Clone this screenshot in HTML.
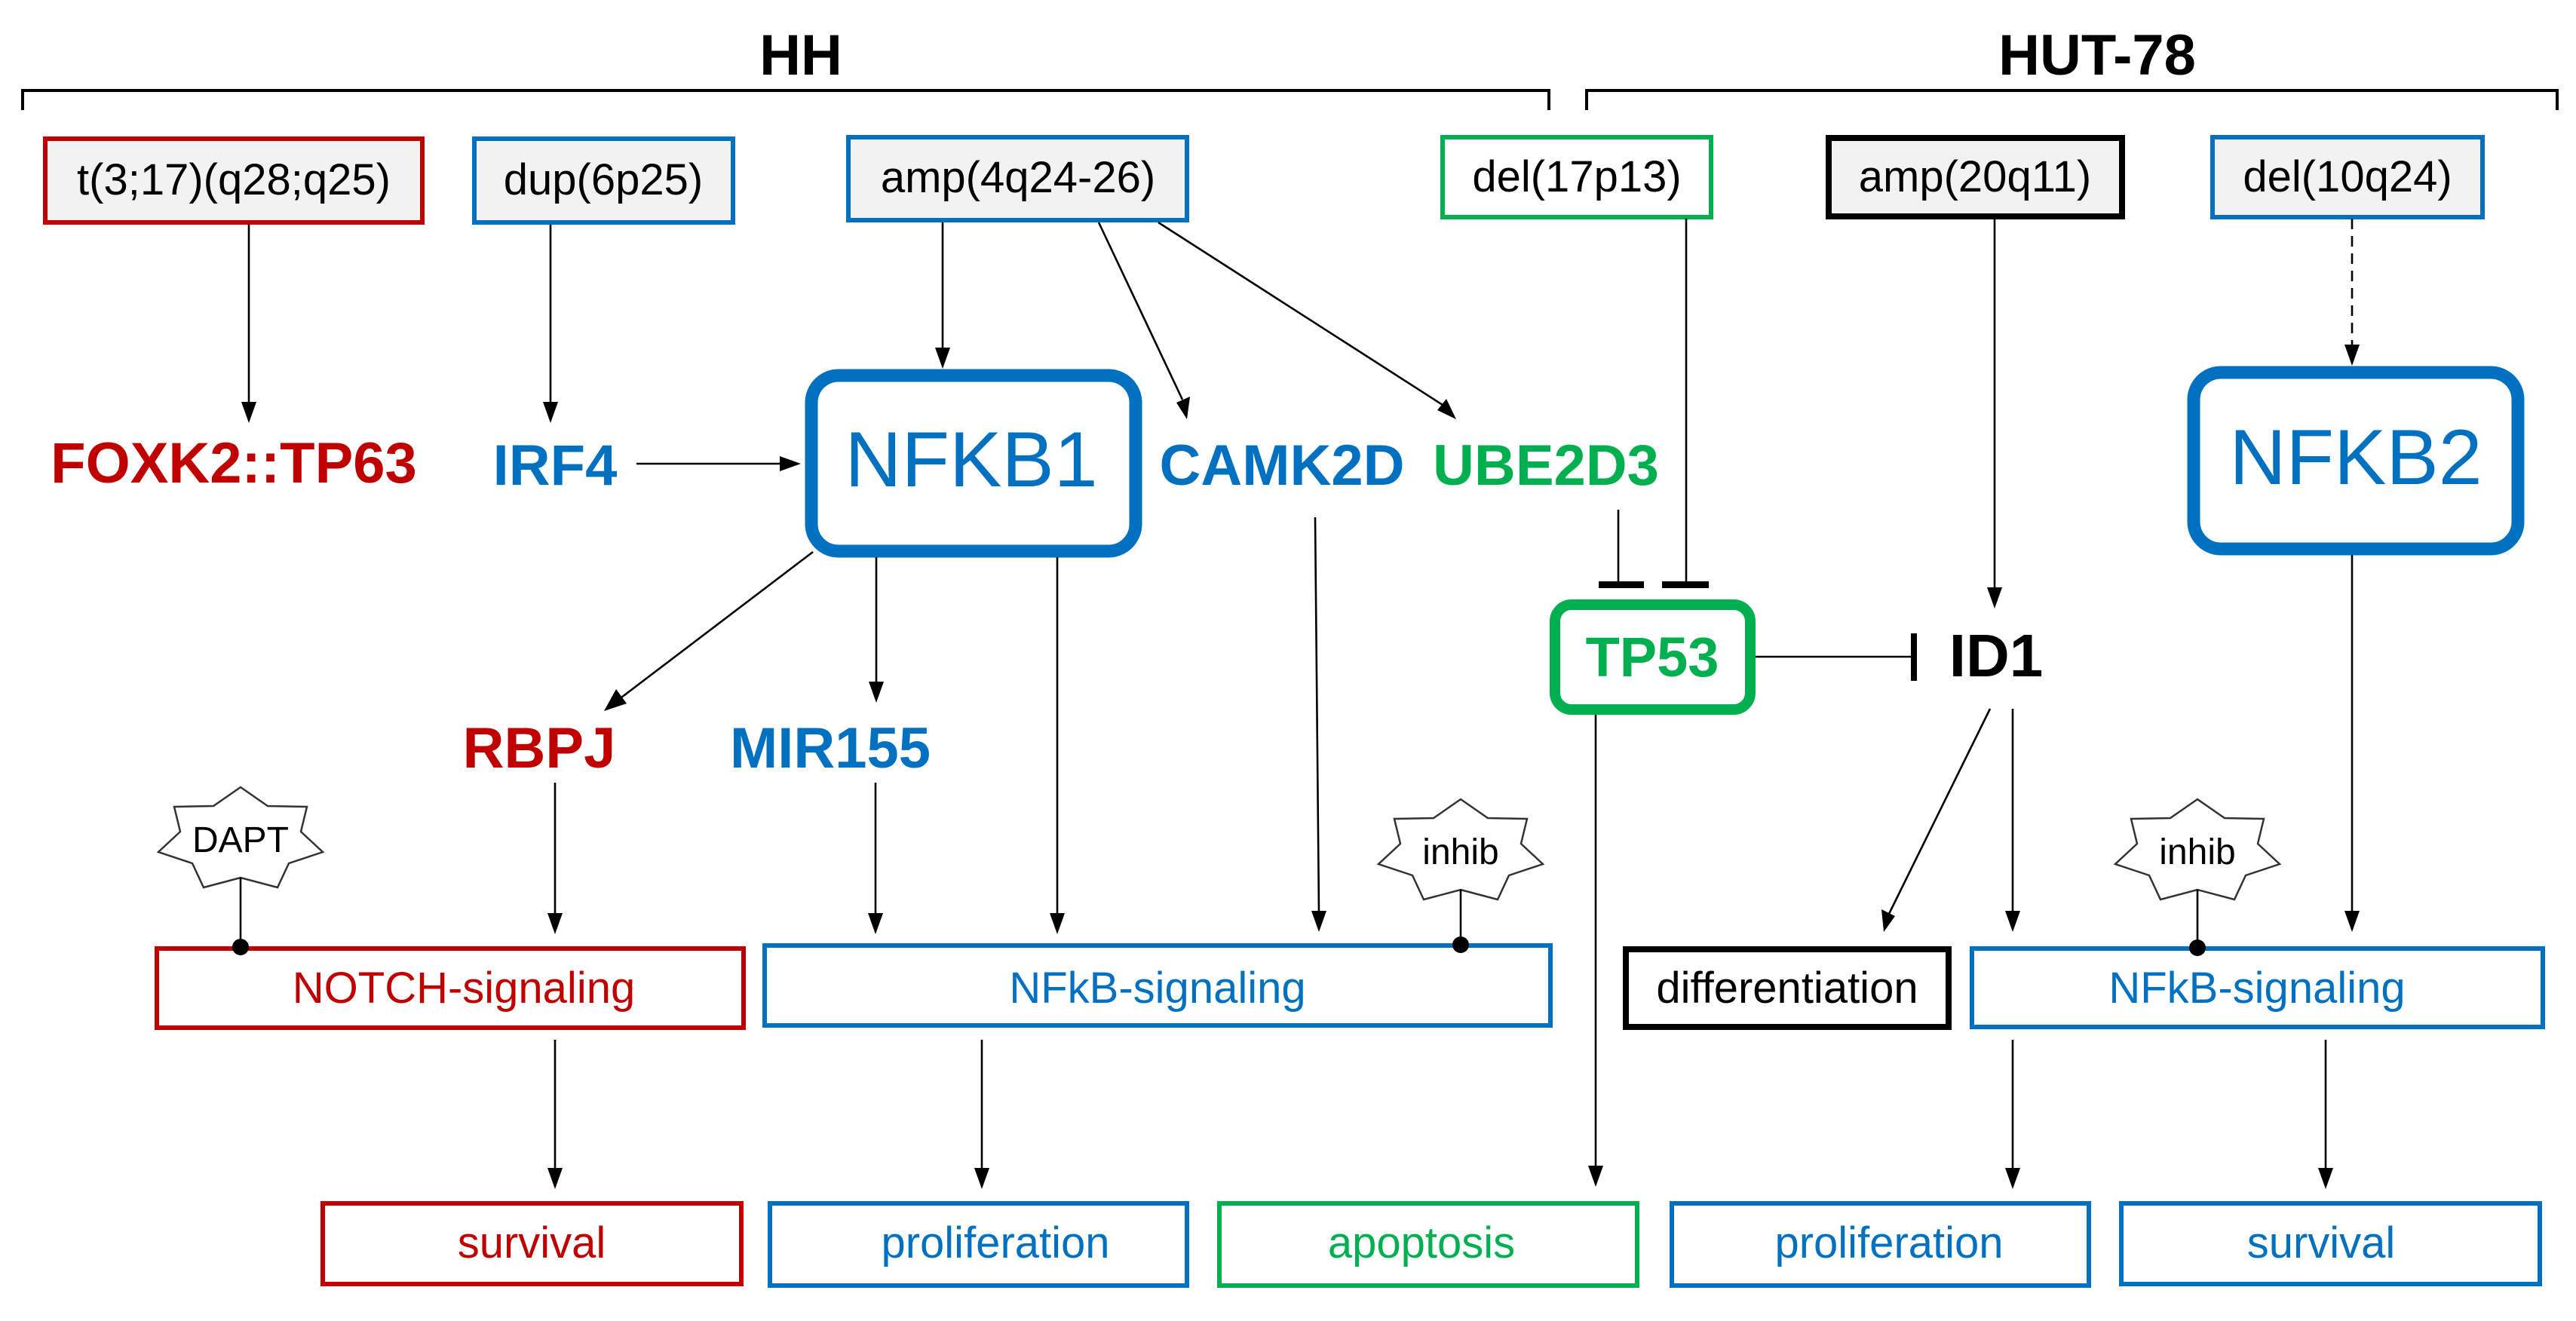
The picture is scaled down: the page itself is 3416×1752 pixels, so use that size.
<!DOCTYPE html>
<html><head><meta charset="utf-8"><style>
html,body{margin:0;padding:0;background:#fff}
svg{display:block}
text{font-family:"Liberation Sans",Arial,sans-serif}
</style></head><body>
<svg width="3416" height="1752" viewBox="0 0 3416 1752" xmlns="http://www.w3.org/2000/svg">
<defs>
<polygon id="star" fill="#fff" stroke="#333" stroke-width="2.5" points="0,-70 36,-45 88,-44 80,-11 109,16 64,31 49,63 0,50 -49,63 -64,31 -109,16 -80,-11 -88,-44 -36,-45"/>
</defs>
<style>
.ln{stroke:#000;stroke-width:2.6;fill:none}
.ah{fill:#000}
.bx{stroke-width:6}
.t60{font-size:58px;text-anchor:middle}
.b{font-weight:bold;text-anchor:middle}
</style>

<text x="1062" y="99" font-size="76" font-weight="bold" text-anchor="middle">HH</text>
<text x="2781" y="99" font-size="76" font-weight="bold" text-anchor="middle">HUT-78</text>
<path d="M30 146 V120 H2054 V146" stroke="#000" stroke-width="4" fill="none"/>
<path d="M2104 146 V120 H3391 V146" stroke="#000" stroke-width="4" fill="none"/>

<rect x="60" y="184" width="500" height="111" fill="#f2f2f2" stroke="#c00000" class="bx"/>
<text x="310" y="258" class="t60">t(3;17)(q28;q25)</text>
<rect x="629" y="184" width="343" height="111" fill="#f2f2f2" stroke="#0070c0" class="bx"/>
<text x="800" y="258" class="t60">dup(6p25)</text>
<rect x="1125" y="182" width="449" height="110" fill="#f2f2f2" stroke="#0070c0" class="bx"/>
<text x="1350" y="255" class="t60">amp(4q24-26)</text>
<rect x="1913" y="182" width="356" height="106" fill="#fff" stroke="#00b050" class="bx"/>
<text x="2091" y="254" class="t60">del(17p13)</text>
<rect x="2425" y="183" width="389" height="104" fill="#f2f2f2" stroke="#000" stroke-width="8"/>
<text x="2619" y="254" class="t60">amp(20q11)</text>
<rect x="2934" y="182" width="358" height="106" fill="#f2f2f2" stroke="#0070c0" class="bx"/>
<text x="3113" y="254" class="t60">del(10q24)</text>

<line class="ln" x1="330" y1="298" x2="330" y2="535"/><polygon class="ah" points="320,533 340,533 330,561"/>
<line class="ln" x1="730" y1="298" x2="730" y2="535"/><polygon class="ah" points="720,533 740,533 730,561"/>
<line class="ln" x1="1250" y1="295" x2="1250" y2="463"/><polygon class="ah" points="1240,461 1260,461 1250,489"/>
<line class="ln" x1="1457" y1="295" x2="1568" y2="530"/><polygon class="ah" points="1560,534 1578,526 1574,556"/>
<line class="ln" x1="1536" y1="295" x2="1913" y2="537"/><polygon class="ah" points="1906,544 1918,529 1931,556"/>
<line class="ln" x1="2236" y1="290" x2="2236" y2="775"/>
<rect x="2204" y="771" width="62" height="9" fill="#000"/>
<line class="ln" x1="2146" y1="676" x2="2146" y2="775"/>
<rect x="2120" y="771" width="60" height="9" fill="#000"/>
<line class="ln" x1="2645" y1="290" x2="2645" y2="781"/><polygon class="ah" points="2635,779 2655,779 2645,807"/>
<line class="ln" x1="3119" y1="290" x2="3119" y2="459" stroke-dasharray="14,9"/><polygon class="ah" points="3109,457 3129,457 3119,485"/>

<text x="310" y="640" font-size="76" class="b" fill="#c00000">FOXK2::TP63</text>
<text x="736" y="643" font-size="76" class="b" fill="#0070c0">IRF4</text>
<line class="ln" x1="844" y1="615" x2="1036" y2="615"/><polygon class="ah" points="1034,605 1034,625 1062,615"/>
<rect x="1076" y="498" width="430" height="233" rx="36" fill="#fff" stroke="#0070c0" stroke-width="17"/>
<text x="1288" y="645" font-size="104" text-anchor="middle" fill="#0070c0">NFKB1</text>
<text x="1700" y="643" font-size="76" class="b" fill="#0070c0">CAMK2D</text>
<text x="2050" y="643" font-size="76" class="b" fill="#00b050">UBE2D3</text>
<rect x="2909" y="494" width="430" height="234" rx="36" fill="#fff" stroke="#0070c0" stroke-width="17"/>
<text x="3124" y="642" font-size="104" text-anchor="middle" fill="#0070c0">NFKB2</text>

<rect x="2062" y="802" width="259" height="139" rx="22" fill="#fff" stroke="#00b050" stroke-width="14"/>
<text x="2191" y="897" font-size="74" class="b" fill="#00b050">TP53</text>
<line class="ln" x1="2328" y1="871" x2="2538" y2="871"/>
<rect x="2534" y="840" width="8" height="63" fill="#000"/>
<text x="2647" y="897" font-size="80" class="b" fill="#000">ID1</text>

<line class="ln" x1="1078" y1="732" x2="824" y2="925"/><polygon class="ah" points="817,914 831,933 801,943"/>
<line class="ln" x1="1162" y1="739" x2="1162" y2="906"/><polygon class="ah" points="1152,904 1172,904 1162,932"/>
<line class="ln" x1="1402" y1="739" x2="1402" y2="1213"/><polygon class="ah" points="1392,1211 1412,1211 1402,1239"/>
<line class="ln" x1="1744" y1="686" x2="1749" y2="1210"/><polygon class="ah" points="1739,1208 1759,1208 1749,1236"/>
<line class="ln" x1="3119" y1="736" x2="3119" y2="1210"/><polygon class="ah" points="3109,1208 3129,1208 3119,1236"/>

<text x="715" y="1018" font-size="76" class="b" fill="#c00000">RBPJ</text>
<text x="1101" y="1018" font-size="76" class="b" fill="#0070c0">MIR155</text>
<line class="ln" x1="736" y1="1038" x2="736" y2="1213"/><polygon class="ah" points="726,1211 746,1211 736,1239"/>
<line class="ln" x1="1161" y1="1038" x2="1161" y2="1213"/><polygon class="ah" points="1151,1211 1171,1211 1161,1239"/>

<line class="ln" x1="2116" y1="948" x2="2116" y2="1548"/><polygon class="ah" points="2106,1546 2126,1546 2116,1574"/>
<line class="ln" x1="2639" y1="940" x2="2505" y2="1212"/><polygon class="ah" points="2495,1206 2513,1215 2498,1236"/>
<line class="ln" x1="2669" y1="940" x2="2669" y2="1210"/><polygon class="ah" points="2659,1208 2679,1208 2669,1236"/>

<use href="#star" transform="translate(319,1114)"/>
<text x="319" y="1130" font-size="48" text-anchor="middle">DAPT</text>
<line class="ln" x1="319" y1="1164" x2="319" y2="1256"/>

<use href="#star" transform="translate(1937,1130)"/>
<text x="1937" y="1146" font-size="48" text-anchor="middle">inhib</text>
<line class="ln" x1="1937" y1="1180" x2="1937" y2="1253"/>

<use href="#star" transform="translate(2914,1130)"/>
<text x="2914" y="1146" font-size="48" text-anchor="middle">inhib</text>
<line class="ln" x1="2914" y1="1180" x2="2914" y2="1253"/>

<rect x="208" y="1258" width="778" height="105" fill="#fff" stroke="#c00000" class="bx"/>
<text x="615" y="1330" class="t60" fill="#c00000">NOTCH-signaling</text>
<rect x="1014" y="1254" width="1042" height="106" fill="#fff" stroke="#0070c0" class="bx"/>
<text x="1535" y="1330" class="t60" fill="#0070c0">NFkB-signaling</text>
<rect x="2156" y="1259" width="428" height="103" fill="#fff" stroke="#000" stroke-width="8"/>
<text x="2370" y="1330" class="t60" fill="#000">differentiation</text>
<rect x="2615" y="1258" width="757" height="104" fill="#fff" stroke="#0070c0" class="bx"/>
<text x="2993" y="1330" class="t60" fill="#0070c0">NFkB-signaling</text>
<circle cx="319" cy="1256" r="11" fill="#000"/>
<circle cx="1937" cy="1253" r="11" fill="#000"/>
<circle cx="2914" cy="1257" r="11" fill="#000"/>

<line class="ln" x1="736" y1="1379" x2="736" y2="1551"/><polygon class="ah" points="726,1549 746,1549 736,1577"/>
<line class="ln" x1="1302" y1="1379" x2="1302" y2="1551"/><polygon class="ah" points="1292,1549 1312,1549 1302,1577"/>
<line class="ln" x1="2669" y1="1379" x2="2669" y2="1551"/><polygon class="ah" points="2659,1549 2679,1549 2669,1577"/>
<line class="ln" x1="3084" y1="1379" x2="3084" y2="1551"/><polygon class="ah" points="3074,1549 3094,1549 3084,1577"/>

<rect x="428" y="1596" width="555" height="107" fill="#fff" stroke="#c00000" class="bx"/>
<text x="705" y="1668" class="t60" fill="#c00000">survival</text>
<rect x="1021" y="1596" width="553" height="109" fill="#fff" stroke="#0070c0" class="bx"/>
<text x="1320" y="1668" class="t60" fill="#0070c0">proliferation</text>
<rect x="1617" y="1596" width="554" height="109" fill="#fff" stroke="#00b050" class="bx"/>
<text x="1885" y="1668" class="t60" fill="#00b050">apoptosis</text>
<rect x="2217" y="1596" width="553" height="109" fill="#fff" stroke="#0070c0" class="bx"/>
<text x="2505" y="1668" class="t60" fill="#0070c0">proliferation</text>
<rect x="2813" y="1596" width="555" height="107" fill="#fff" stroke="#0070c0" class="bx"/>
<text x="3078" y="1668" class="t60" fill="#0070c0">survival</text>
</svg>
</body></html>
